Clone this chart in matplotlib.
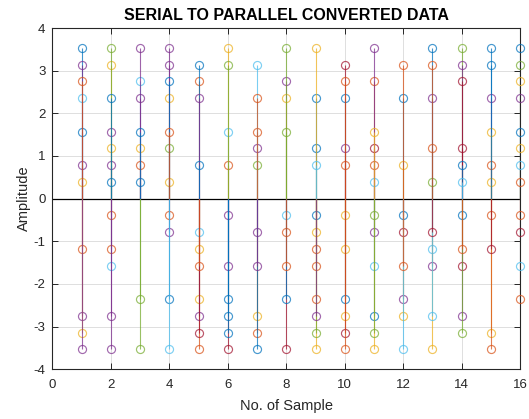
import numpy as np
import matplotlib
matplotlib.use("Agg")
import matplotlib.pyplot as plt

# amplitude quantisation step (values are multiples of pi/8)
STEP = np.pi / 8

samples = list(range(1, 17))

# positive amplitudes per sample (in units of STEP), listed in drawing order
pos_levels = [
    [6, 4, 2, 1, 9, 8, 7],
    [8, 4, 3, 2, 1, 9, 6],
    [7, 6, 3, 2, 1, 9, 4],
    [6, 3, 1, 9, 8, 7, 4],
    [7, 8, 6, 2],
    [4, 2, 9, 8],
    [4, 3, 2, 8, 6],
    [7, 6, 4, 9],
    [6, 3, 9, 2],
    [6, 3, 2, 8, 7],
    [7, 3, 2, 1, 9, 4],
    [6, 2, 8],
    [6, 3, 1, 9, 8],
    [9, 8, 7, 3, 2, 1],
    [8, 6, 4, 2, 1, 9],
    [8, 7, 6, 3, 2, 4, 9, 1],
]
pos_colors = [
    "cbpybpo", "ypypbgb", "cpyobpb", "ygyppbo", "obpb", "coyg", "opgco", "pygg",
    "bbyc", "bporo", "orocpy", "byo", "pogbo", "gprrbc", "bpyoyb", "gypycbbo",
]

# negative amplitudes per sample (magnitudes in units of STEP), drawing order
neg_levels = [
    [3, 7, 8, 9],
    [1, 3, 4, 7, 9],
    [6, 9],
    [1, 2, 6, 9],
    [9, 6, 3, 2, 7, 8, 4],
    [9, 1, 4, 6, 7, 8],
    [7, 8, 2, 9, 4],
    [1, 2, 9, 6, 4],
    [1, 2, 3, 4, 6, 9, 8, 7],
    [1, 3, 6, 7, 8, 9],
    [1, 2, 4, 7, 9, 8],
    [1, 2, 6, 7, 9, 4],
    [3, 4, 9, 7, 2],
    [1, 4, 7, 8, 3],
    [1, 8, 9, 3],
    [6, 4, 2, 1],
]
neg_colors = [
    "opyp", "oocpp", "gg", "opbc", "oyycpro", "rppbbb", "yopbp", "corbo",
    "byoooygp", "yybyro", "gpcbyg", "brpyco", "cpycr", "brpgo", "oyor", "ocro",
]

x_ticks = [0, 2, 4, 6, 8, 10, 12, 14, 16]
y_ticks = [-4, -3, -2, -1, 0, 1, 2, 3, 4]

palette = {
    "b": (0.000, 0.447, 0.741),
    "o": (0.850, 0.325, 0.098),
    "y": (0.929, 0.694, 0.125),
    "p": (0.494, 0.184, 0.556),
    "g": (0.466, 0.674, 0.188),
    "c": (0.301, 0.745, 0.933),
    "r": (0.635, 0.078, 0.184),
}

plt.rcParams['font.family'] = ['Liberation Sans', 'DejaVu Sans']
plt.rcParams['axes.unicode_minus'] = False

fig = plt.figure(figsize=(5.29, 4.19), dpi=100)
ax = fig.add_axes([0.0992, 0.119, 0.884, 0.814])

ax.axhline(0, color='black', lw=0.9, zorder=1.5)

z = 2.0
for x, pl, pc, nl, nc in zip(samples, pos_levels, pos_colors, neg_levels, neg_colors):
    for sign, levels, cols in ((1, pl, pc), (-1, nl, nc)):
        for k, c in zip(levels, cols):
            v = sign * k * STEP
            col = palette[c]
            ax.plot([x, x], [0, v], color=col, lw=0.8, alpha=0.75, zorder=z,
                    solid_capstyle='butt')
            ax.plot([x], [v], 'o', mfc='none', mec=col, mew=0.85, ms=5.8,
                    alpha=0.72, zorder=z + 0.001, clip_on=False)
            z += 0.01

ax.set_xlim(0, 16)
ax.set_ylim(-4, 4)
ax.set_xticks(x_ticks)
ax.set_yticks(y_ticks)
ax.grid(True, color=(0.87, 0.87, 0.87), lw=0.7, zorder=0)
ax.set_axisbelow(True)

dark = (0.15, 0.15, 0.15)
for s in ax.spines.values():
    s.set_color(dark)
    s.set_linewidth(0.8)
ax.tick_params(direction='in', top=True, right=True, length=4, width=0.7,
               colors=dark, labelsize=9.5)
ax.tick_params(axis='x', pad=7)
ax.tick_params(axis='y', pad=5)

ax.set_title('SERIAL TO PARALLEL CONVERTED DATA', fontsize=11.5, fontweight='bold',
             color='black', pad=6)
ax.set_xlabel('No. of Sample', fontsize=10.5, color=dark, labelpad=6)
ax.set_ylabel('Amplitude', fontsize=10.5, color=dark, labelpad=2)

fig.savefig('out.png', dpi=100)
